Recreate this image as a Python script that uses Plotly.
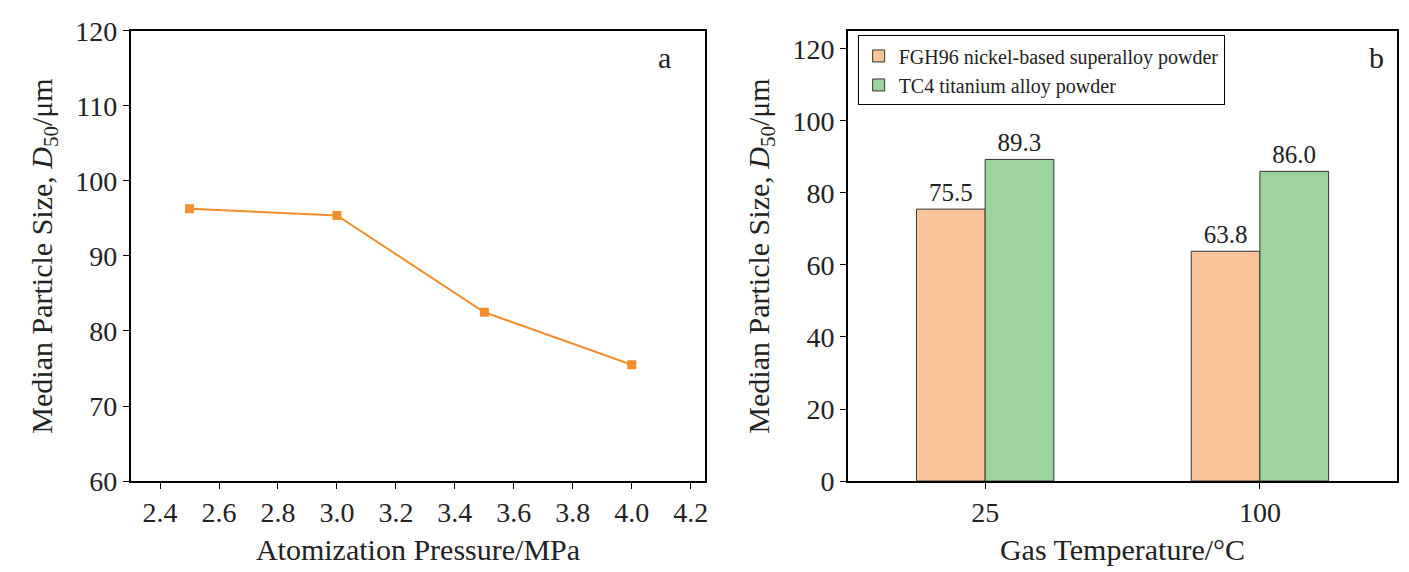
import plotly.graph_objects as go

# panel a
pressure = [2.5, 3.0, 3.5, 4.0]
d50_pressure = [96.3, 95.4, 82.5, 75.5]

# panel b
temps = ["25", "100"]
fgh96 = [75.5, 63.8]
tc4 = [89.3, 86.0]

font = "Liberation Serif, Times New Roman, serif"
ytitle = "Median Particle Size, <i>D</i><sub>50</sub>/μm"

fig = go.Figure()

fig.add_trace(go.Scatter(
    x=pressure, y=d50_pressure, mode="lines+markers",
    line=dict(color="#f28e2f", width=2),
    marker=dict(symbol="square", size=9, color="#f28e2f"),
    showlegend=False, xaxis="x", yaxis="y"
))

fig.add_trace(go.Bar(
    x=temps, y=fgh96, name="FGH96 nickel-based superalloy powder",
    marker=dict(color="#f9c49a", line=dict(color="#333333", width=1)),
    text=[f"{v:.1f}" for v in fgh96], textposition="outside",
    textfont=dict(size=25, color="#222"), cliponaxis=False,
    xaxis="x2", yaxis="y2"
))
fig.add_trace(go.Bar(
    x=temps, y=tc4, name="TC4 titanium alloy powder",
    marker=dict(color="#9dd39c", line=dict(color="#333333", width=1)),
    text=[f"{v:.1f}" for v in tc4], textposition="outside",
    textfont=dict(size=25, color="#222"), cliponaxis=False,
    xaxis="x2", yaxis="y2"
))

axis_style = dict(
    showline=True, linecolor="black", linewidth=1.5, mirror=True,
    ticks="outside", ticklen=6, tickcolor="black", showgrid=False,
    zeroline=False, tickfont=dict(size=28, color="#222"),
    title_font=dict(size=30, color="#222"), automargin=False,
)

fig.update_layout(
    width=1409, height=572,
    margin=dict(l=0, r=0, t=0, b=0),
    paper_bgcolor="white", plot_bgcolor="white",
    font=dict(family=font, color="#222"),
    barmode="group", bargap=0.5, bargroupgap=0,
    uniformtext=dict(minsize=25, mode="show"),
    xaxis=dict(domain=[0.087, 0.495], range=[2.3, 4.25], dtick=0.2,
               tickformat=".1f", title=dict(text="Atomization Pressure/MPa", standoff=12),
               anchor="y", **axis_style),
    yaxis=dict(domain=[0.173, 0.96], range=[60, 120], dtick=10,
               title=dict(text=ytitle, standoff=14), anchor="x", **axis_style),
    xaxis2=dict(domain=[0.596, 0.986], range=[-0.5, 1.5],
                title=dict(text="Gas Temperature/°C", standoff=12),
                anchor="y2", **axis_style),
    yaxis2=dict(domain=[0.173, 0.96], range=[0, 125], dtick=20,
                title=dict(text=ytitle, standoff=14), anchor="x2", **axis_style),
    legend=dict(x=0.603, y=0.952, xanchor="left", yanchor="top",
                bordercolor="black", borderwidth=1, bgcolor="white",
                font=dict(size=20, color="#222"), tracegroupgap=0),
    annotations=[
        dict(text="a", x=0.466, y=0.945, xref="paper", yref="paper",
             showarrow=False, font=dict(size=30), xanchor="center", yanchor="top"),
        dict(text="b", x=0.971, y=0.945, xref="paper", yref="paper",
             showarrow=False, font=dict(size=30), xanchor="center", yanchor="top"),
    ],
)

fig.write_html("out.html")
